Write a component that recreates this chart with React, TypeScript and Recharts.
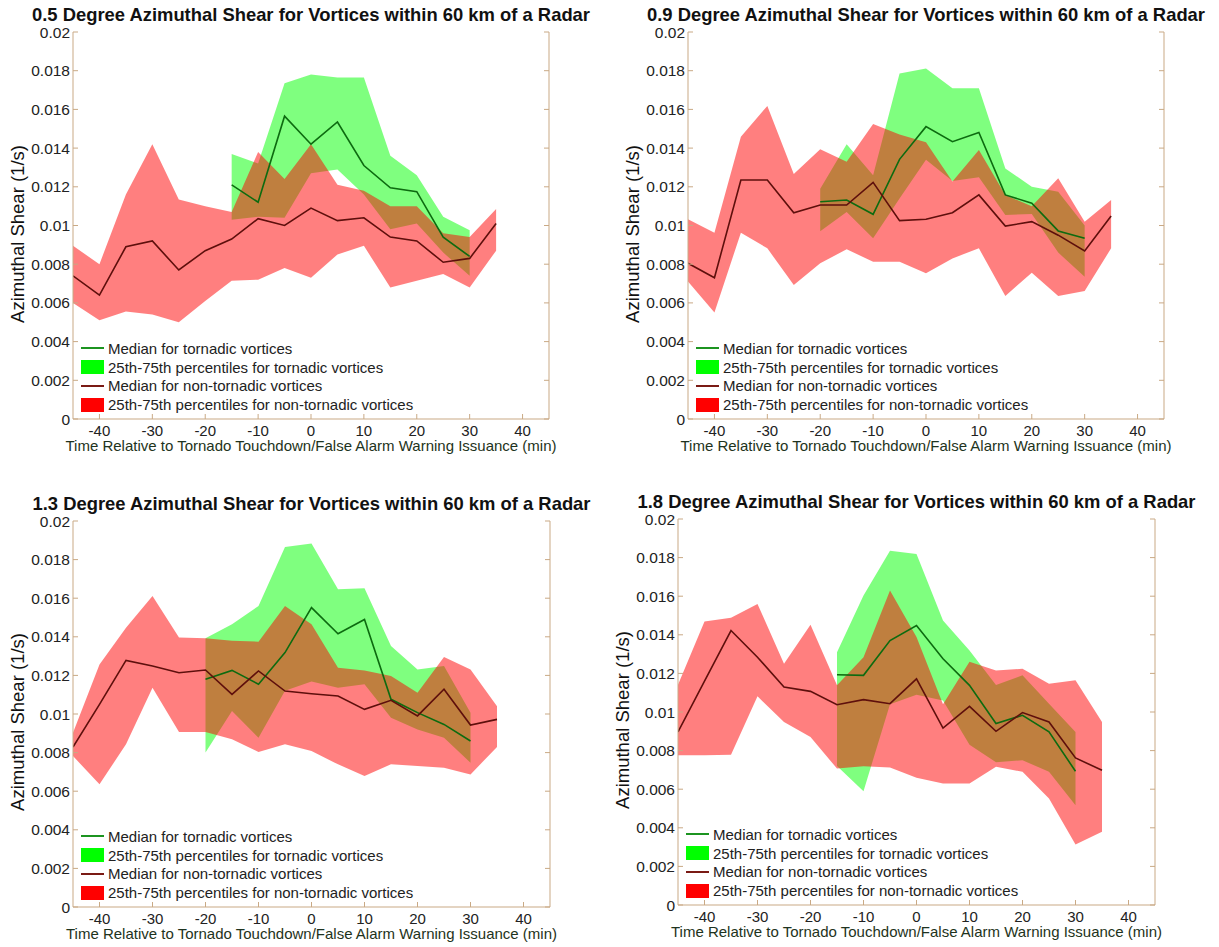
import { ComposedChart, Area, Line, XAxis, YAxis } from "recharts";

// minutes relative to touchdown / warning issuance
const TIMES = [-45, -40, -35, -30, -25, -20, -15, -10, -5, 0, 5, 10, 15, 20, 25, 30, 35];
const X_TICKS = [-40, -30, -20, -10, 0, 10, 20, 30, 40];
const Y_TICKS = [0, 0.002, 0.004, 0.006, 0.008, 0.01, 0.012, 0.014, 0.016, 0.018, 0.02];

const _ = null;

// 0.5 degree
const non05Med = [0.0074, 0.0064, 0.0089, 0.0092, 0.0077, 0.0087, 0.0093, 0.01035, 0.01, 0.0109, 0.01025, 0.0104, 0.0094, 0.0092, 0.0081, 0.0083, 0.0101];
const non05Lo = [0.006, 0.0051, 0.00555, 0.0054, 0.005, 0.0061, 0.00715, 0.0072, 0.0078, 0.0073, 0.0085, 0.00895, 0.0068, 0.00715, 0.0075, 0.0068, 0.0087];
const non05Hi = [0.00895, 0.008, 0.0116, 0.0142, 0.01135, 0.011, 0.0107, 0.0138, 0.0124, 0.0142, 0.0121, 0.0118, 0.011, 0.011, 0.0096, 0.0094, 0.01085];
const tor05Med = [_, _, _, _, _, _, 0.0121, 0.0112, 0.01565, 0.0142, 0.01535, 0.0131, 0.01195, 0.01175, 0.0094, 0.0084, _];
const tor05Lo = [_, _, _, _, _, _, 0.0103, 0.01045, 0.0104, 0.0127, 0.0129, 0.0116, 0.0098, 0.0101, 0.0086, 0.0074, _];
const tor05Hi = [_, _, _, _, _, _, 0.0137, 0.0132, 0.01735, 0.0178, 0.01765, 0.01765, 0.0136, 0.0126, 0.01045, 0.00975, _];

// 0.9 degree
const non09Med = [0.00805, 0.0073, 0.01235, 0.01235, 0.01066, 0.01106, 0.01106, 0.01223, 0.01025, 0.01032, 0.01066, 0.01158, 0.00997, 0.0102, 0.0095, 0.00868, 0.01049];
const non09Lo = [0.0071, 0.0055, 0.00963, 0.00882, 0.00693, 0.00805, 0.00877, 0.00813, 0.00813, 0.00753, 0.0083, 0.00882, 0.00636, 0.00756, 0.00636, 0.00662, 0.00882];
const non09Hi = [0.01032, 0.00963, 0.01459, 0.01618, 0.01266, 0.01394, 0.0133, 0.01525, 0.0147, 0.0143, 0.01227, 0.0139, 0.01157, 0.011, 0.01244, 0.0102, 0.01132];
const tor09Med = [_, _, _, _, _, 0.01123, 0.01132, 0.01058, 0.01342, 0.01511, 0.01433, 0.01481, 0.01158, 0.01115, 0.00972, 0.00934, _];
const tor09Lo = [_, _, _, _, _, 0.0097, 0.0107, 0.00934, 0.0114, 0.0134, 0.0123, 0.0125, 0.01054, 0.0106, 0.0086, 0.00735, _];
const tor09Hi = [_, _, _, _, _, 0.0119, 0.0142, 0.0126, 0.01786, 0.01812, 0.01709, 0.01709, 0.01295, 0.012, 0.01175, 0.01, _];

// 1.3 degree
const non13Med = [0.00829, 0.0105, 0.01278, 0.01249, 0.01214, 0.01228, 0.01102, 0.01223, 0.01119, 0.01105, 0.01093, 0.01024, 0.01071, 0.0099, 0.01128, 0.00943, 0.00972];
const non13Lo = [0.00782, 0.00636, 0.00843, 0.01136, 0.00907, 0.00907, 0.00869, 0.00803, 0.00843, 0.00808, 0.00739, 0.00679, 0.00739, 0.00731, 0.00722, 0.00687, 0.00829];
const non13Hi = [0.00903, 0.01257, 0.01447, 0.01611, 0.01396, 0.01392, 0.0138, 0.01375, 0.0156, 0.01465, 0.0124, 0.01226, 0.01197, 0.0111, 0.01295, 0.0123, 0.0104];
const tor13Med = [_, _, _, _, _, 0.0118, 0.01226, 0.01154, 0.01318, 0.01551, 0.01416, 0.0149, 0.01076, 0.01007, 0.00946, 0.0086, _];
const tor13Lo = [_, _, _, _, _, 0.008, 0.01016, 0.00877, 0.0112, 0.01168, 0.01136, 0.01154, 0.0098, 0.0092, 0.00877, 0.00748, _];
const tor13Hi = [_, _, _, _, _, 0.01392, 0.01465, 0.0156, 0.01865, 0.01883, 0.01646, 0.01651, 0.01352, 0.01231, 0.01249, 0.01007, _];

// 1.8 degree
const non18Med = [0.00897, 0.0116, 0.01422, 0.01284, 0.01129, 0.01107, 0.01038, 0.01064, 0.01043, 0.01172, 0.00917, 0.01029, 0.009, 0.00997, 0.00948, 0.00762, 0.00698];
const non18Lo = [0.00776, 0.00776, 0.00779, 0.01081, 0.00948, 0.0087, 0.00707, 0.00719, 0.00712, 0.00659, 0.00629, 0.00629, 0.00716, 0.0069, 0.00552, 0.00314, 0.00379];
const non18Hi = [0.01141, 0.01469, 0.01488, 0.0156, 0.0125, 0.01452, 0.01138, 0.01284, 0.0163, 0.01388, 0.0104, 0.0126, 0.01215, 0.01224, 0.01147, 0.01164, 0.00948];
const tor18Med = [_, _, _, _, _, _, 0.01193, 0.0119, 0.0137, 0.01448, 0.01276, 0.01138, 0.0094, 0.00983, 0.00897, 0.00693, _];
const tor18Lo = [_, _, _, _, _, _, 0.0072, 0.0059, 0.0104, 0.0109, 0.0106, 0.0083, 0.0074, 0.0075, 0.0069, 0.00517, _];
const tor18Hi = [_, _, _, _, _, _, 0.0131, 0.01603, 0.01836, 0.01819, 0.01474, 0.01319, 0.0114, 0.0119, 0.01043, 0.00897, _];

const AXIS_COLOR = "#c9a985";
const TEXT_COLOR = "#222";
const FONT = '"Liberation Sans", Arial, Helvetica, sans-serif';

const LEGEND_ITEMS = [
  { kind: "line", color: "#1c9420", label: "Median for tornadic vortices" },
  { kind: "patch", color: "#00ff00", label: "25th-75th percentiles for tornadic vortices" },
  { kind: "line", color: "#7a1a14", label: "Median for non-tornadic vortices" },
  { kind: "patch", color: "#ff0000", label: "25th-75th percentiles for non-tornadic vortices" },
];

const buildRows = (
  torMed: (number | null)[],
  torLo: (number | null)[],
  torHi: (number | null)[],
  nonMed: number[],
  nonLo: number[],
  nonHi: number[]
) =>
  TIMES.map((t, i) => ({
    t,
    torMed: torMed[i],
    torBand: torLo[i] == null ? null : [torLo[i], torHi[i]],
    nonMed: nonMed[i],
    nonBand: [nonLo[i], nonHi[i]],
  }));

const PANELS = [
  {
    title: "0.5 Degree Azimuthal Shear for Vortices within 60 km of a Radar",
    box: { x: 73, y: 32, w: 476, h: 387 },
    rows: buildRows(tor05Med, tor05Lo, tor05Hi, non05Med, non05Lo, non05Hi),
  },
  {
    title: "0.9 Degree Azimuthal Shear for Vortices within 60 km of a Radar",
    box: { x: 688, y: 32, w: 476, h: 387 },
    rows: buildRows(tor09Med, tor09Lo, tor09Hi, non09Med, non09Lo, non09Hi),
  },
  {
    title: "1.3 Degree Azimuthal Shear for Vortices within 60 km of a Radar",
    box: { x: 73, y: 521, w: 477, h: 386 },
    rows: buildRows(tor13Med, tor13Lo, tor13Hi, non13Med, non13Lo, non13Hi),
  },
  {
    title: "1.8 Degree Azimuthal Shear for Vortices within 60 km of a Radar",
    box: { x: 678, y: 519, w: 477, h: 386 },
    rows: buildRows(tor18Med, tor18Lo, tor18Hi, non18Med, non18Lo, non18Hi),
  },
];

const fmtShear = (v: number) => (v === 0 ? "0" : String(Number(v.toFixed(3))));

// matlab-style ticks: short marks pointing into the axes box
const BottomTick = ({ x, y, payload }: any) => (
  <g>
    <line x1={x} y1={y} x2={x} y2={y - 5} stroke={AXIS_COLOR} />
    <text x={x} y={y + 11} textAnchor="middle" dominantBaseline="central" fontSize={15} fill={TEXT_COLOR}>
      {payload.value}
    </text>
  </g>
);
const TopTick = ({ x, y }: any) => <line x1={x} y1={y} x2={x} y2={y + 5} stroke={AXIS_COLOR} />;
const LeftTick = ({ x, y, payload }: any) => (
  <g>
    <line x1={x} y1={y} x2={x + 5} y2={y} stroke={AXIS_COLOR} />
    <text x={x - 3} y={y} textAnchor="end" dominantBaseline="central" fontSize={15.5} fill={TEXT_COLOR}>
      {fmtShear(payload.value)}
    </text>
  </g>
);
const RightTick = ({ x, y }: any) => <line x1={x} y1={y} x2={x - 5} y2={y} stroke={AXIS_COLOR} />;

function ShearLegend({ left, bottom }: { left: number; bottom: number }) {
  return (
    <div style={{ position: "absolute", left: left + 4, top: bottom - 80, fontSize: 15, color: TEXT_COLOR }}>
      {LEGEND_ITEMS.map((it) => (
        <div key={it.label} style={{ display: "flex", alignItems: "center", height: 18.8, whiteSpace: "nowrap" }}>
          <div style={{ width: 27, display: "flex", alignItems: "center", paddingLeft: 4 }}>
            {it.kind === "line" ? (
              <div style={{ width: 23, height: 2, background: it.color }} />
            ) : (
              <div style={{ width: 23, height: 14, background: it.color }} />
            )}
          </div>
          <span style={{ marginLeft: 0 }}>{it.label}</span>
        </div>
      ))}
    </div>
  );
}

function ShearPanel({ title, box, rows }: (typeof PANELS)[number]) {
  const yAxisW = 70;
  const chartW = yAxisW + box.w + 5;
  const chartH = 10 + box.h + 40;
  const cx = box.x + box.w / 2;
  return (
    <>
      <div
        style={{
          position: "absolute",
          left: cx - 320,
          width: 640,
          top: box.y - 29,
          height: 24,
          lineHeight: "24px",
          textAlign: "center",
          fontSize: 18.4,
          fontWeight: "bold",
          color: "#111",
          whiteSpace: "nowrap",
        }}
      >
        {title}
      </div>
      <div
        style={{
          position: "absolute",
          left: box.x - 55 - 120,
          top: box.y + box.h / 2 + 8 - 11,
          width: 240,
          height: 22,
          lineHeight: "22px",
          textAlign: "center",
          fontSize: 18.5,
          color: "#111",
          transform: "rotate(-90deg)",
        }}
      >
        Azimuthal Shear (1/s)
      </div>
      <div
        style={{
          position: "absolute",
          left: cx - 300,
          width: 600,
          top: box.y + box.h + 27 - 8,
          height: 16,
          lineHeight: "16px",
          textAlign: "center",
          fontSize: 15,
          color: "#1e3320",
          whiteSpace: "nowrap",
        }}
      >
        Time Relative to Tornado Touchdown/False Alarm Warning Issuance (min)
      </div>
      <div style={{ position: "absolute", left: box.x - yAxisW, top: box.y - 10 }}>
        <ComposedChart width={chartW} height={chartH} data={rows} margin={{ top: 10, right: 4, bottom: 0, left: 0 }}>
          <XAxis
            xAxisId="b"
            dataKey="t"
            type="number"
            domain={[-45, 45]}
            ticks={X_TICKS}
            interval={0}
            allowDataOverflow
            height={40}
            tickSize={0}
            tickMargin={0}
            stroke={AXIS_COLOR}
            tick={<BottomTick />}
          />
          <XAxis
            xAxisId="t"
            dataKey="t"
            orientation="top"
            type="number"
            domain={[-45, 45]}
            ticks={X_TICKS}
            interval={0}
            allowDataOverflow
            height={0}
            tickSize={0}
            tickMargin={0}
            stroke={AXIS_COLOR}
            tick={<TopTick />}
          />
          <YAxis
            yAxisId="l"
            type="number"
            domain={[0, 0.02]}
            ticks={Y_TICKS}
            interval={0}
            allowDataOverflow
            width={yAxisW}
            tickSize={0}
            tickMargin={0}
            stroke={AXIS_COLOR}
            tick={<LeftTick />}
          />
          <YAxis
            yAxisId="r"
            orientation="right"
            type="number"
            domain={[0, 0.02]}
            ticks={Y_TICKS}
            interval={0}
            allowDataOverflow
            width={1}
            tickSize={0}
            tickMargin={0}
            stroke={AXIS_COLOR}
            tick={<RightTick />}
          />
          {/* tornadic band first so the non-tornadic band tints the overlap brown */}
          <Area
            xAxisId="b"
            yAxisId="l"
            type="linear"
            dataKey="torBand"
            stroke="none"
            fill="#00ff00"
            fillOpacity={0.5}
            dot={false}
            activeDot={false}
            isAnimationActive={false}
          />
          <Area
            xAxisId="b"
            yAxisId="l"
            type="linear"
            dataKey="nonBand"
            stroke="none"
            fill="#ff0000"
            fillOpacity={0.5}
            dot={false}
            activeDot={false}
            isAnimationActive={false}
          />
          <Line
            xAxisId="b"
            yAxisId="l"
            type="linear"
            dataKey="torMed"
            stroke="#0d6b10"
            strokeWidth={1.6}
            dot={false}
            activeDot={false}
            isAnimationActive={false}
          />
          <Line
            xAxisId="b"
            yAxisId="l"
            type="linear"
            dataKey="nonMed"
            stroke="#5e0f0c"
            strokeWidth={1.6}
            dot={false}
            activeDot={false}
            isAnimationActive={false}
          />
        </ComposedChart>
      </div>
      <ShearLegend left={box.x} bottom={box.y + box.h} />
    </>
  );
}

export default function App() {
  return (
    <div
      style={{
        position: "absolute",
        left: 0,
        top: 0,
        width: 1219,
        height: 947,
        background: "#fff",
        fontFamily: FONT,
        overflow: "hidden",
      }}
    >
      {PANELS.map((p) => (
        <ShearPanel key={p.title} {...p} />
      ))}
    </div>
  );
}
